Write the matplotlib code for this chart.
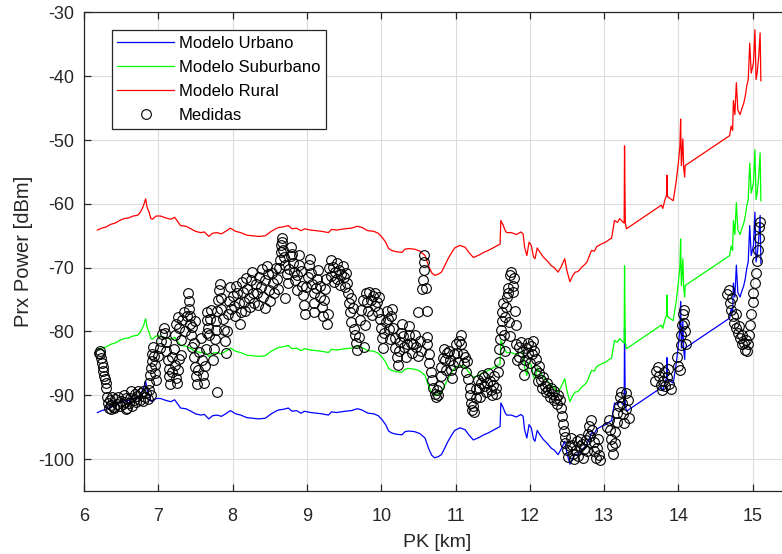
import matplotlib
matplotlib.use("Agg")
import matplotlib.pyplot as plt

plt.rcParams['font.family'] = ['Liberation Sans', 'DejaVu Sans']
plt.rcParams['axes.unicode_minus'] = False

# ---- model curves (PK in km, received power in dBm) ----
model_pk = [6.18, 6.24, 6.30, 6.36, 6.42, 6.48, 6.54, 6.60, 6.66, 6.72, 6.76, 6.80, 6.83, 6.85, 6.87,
            6.90, 6.92, 6.97, 7.03, 7.10, 7.17, 7.22, 7.30, 7.37, 7.44, 7.50, 7.57, 7.62, 7.68, 7.73,
            7.79, 7.85, 7.92, 7.97, 8.04, 8.11, 8.19, 8.27, 8.35, 8.44, 8.52, 8.58, 8.62, 8.68, 8.75,
            8.80, 8.86, 8.92, 8.97, 9.05, 9.13, 9.20, 9.29, 9.33, 9.40, 9.51, 9.60, 9.68, 9.74, 9.82,
            9.90, 9.96, 10.01, 10.06, 10.10, 10.14, 10.20, 10.28, 10.32, 10.37, 10.45, 10.52, 10.59,
            10.64, 10.68, 10.72, 10.77, 10.81, 10.85, 10.90, 10.95, 10.99, 11.06, 11.13, 11.18, 11.24,
            11.32, 11.38, 11.44, 11.52, 11.60, 11.61, 11.64, 11.67, 11.69, 11.75, 11.82, 11.88, 11.91,
            11.93, 11.96, 11.99, 12.02, 12.05, 12.07, 12.10, 12.12, 12.18, 12.24, 12.29, 12.33, 12.38,
            12.42, 12.47, 12.50, 12.54, 12.58, 12.61, 12.65, 12.70, 12.74, 12.77, 12.83, 12.87, 12.90,
            12.96, 13.02, 13.08, 13.10, 13.12, 13.14, 13.18, 13.21, 13.25, 13.27, 13.275, 13.285, 13.30,
            13.77, 13.79, 13.82, 13.84, 13.845, 13.85, 13.87, 13.93, 13.97, 14.00, 14.02, 14.03, 14.04,
            14.06, 14.07, 14.085, 14.09, 14.69, 14.71, 14.73, 14.74, 14.76, 14.78, 14.80, 14.83, 14.85,
            14.88, 14.90, 14.92, 14.94, 14.96, 14.98, 15.01, 15.03, 15.045, 15.06, 15.08, 15.10, 15.11]

rural = [-64.1, -63.8, -63.6, -63.2, -63.0, -62.6, -62.3, -62.2, -61.9, -61.8, -61.3, -60.3, -59.2, -60.6, -61.1,
         -62.3, -62.4, -61.9, -61.9, -62.2, -62.4, -62.1, -63.4, -63.5, -63.9, -64.3, -64.5, -64.4, -65.1, -64.6,
         -64.5, -64.7, -64.2, -63.8, -64.3, -64.5, -64.9, -65.0, -65.1, -65.0, -64.3, -63.9, -63.7, -63.6, -63.4,
         -63.9, -63.8, -64.2, -63.9, -64.1, -64.2, -64.3, -64.5, -64.0, -64.1, -63.9, -63.8, -63.5, -63.7, -64.2,
         -64.3, -64.6, -65.2, -66.0, -67.0, -67.3, -67.5, -67.6, -67.1, -67.0, -67.1, -67.4, -68.1,
         -69.8, -70.8, -71.2, -71.0, -70.7, -69.8, -68.6, -67.6, -66.9, -66.5, -66.8, -67.6, -68.4,
         -68.0, -67.6, -67.3, -66.8, -66.3, -62.6, -63.3, -64.2, -64.5, -64.5, -64.8, -64.4, -64.7,
         -66.8, -68.1, -66.0, -66.5, -68.3, -68.6, -66.9, -67.3, -68.3, -69.0, -69.7, -70.0, -70.7,
         -69.9, -68.6, -70.5, -72.2, -71.2, -70.7, -70.6, -69.9, -69.5, -69.1, -67.3, -67.4, -66.7,
         -66.3, -66.0, -65.5, -65.4, -64.0, -62.6, -62.9, -62.3, -62.8, -63.0, -50.9, -62.9, -63.9,
         -60.2, -60.7, -59.3, -58.7, -55.5, -58.8, -59.0, -59.5, -56.5, -53.5, -51.0, -46.7, -54.0,
         -49.8, -54.2, -55.8, -54.0, -49.3, -47.8, -48.5, -43.8, -46.0, -41.0, -45.3, -46.0, -45.2,
         -44.2, -43.1, -41.5, -40.5, -34.8, -39.5, -37.9, -32.7, -40.5, -39.5, -37.0, -33.2, -40.7]

suburbano = [-82.9, -82.6, -82.4, -82.0, -81.8, -81.4, -81.1, -81.0, -80.7, -80.6, -80.1, -79.1, -78.0, -79.4, -79.9,
             -81.1, -81.2, -80.7, -80.7, -81.0, -81.2, -80.9, -82.2, -82.3, -82.7, -83.1, -83.3, -83.2, -83.9, -83.4,
             -83.3, -83.5, -83.0, -82.6, -83.1, -83.3, -83.7, -83.8, -83.9, -83.8, -83.1, -82.7, -82.5, -82.4, -82.2,
             -82.7, -82.6, -83.0, -82.7, -82.9, -83.0, -83.1, -83.3, -82.8, -82.9, -82.7, -82.6, -82.3, -82.5, -83.0,
             -83.1, -83.4, -84.0, -84.8, -85.8, -86.1, -86.3, -86.4, -85.9, -85.8, -85.9, -86.2, -86.9,
             -88.6, -89.6, -90.0, -89.8, -89.5, -88.6, -87.4, -86.4, -85.7, -85.3, -85.6, -86.4, -87.2,
             -86.8, -86.4, -86.1, -85.6, -85.1, -81.4, -82.1, -83.0, -83.3, -83.3, -83.6, -83.2, -83.5,
             -85.6, -86.9, -84.8, -85.3, -87.1, -87.4, -85.7, -86.1, -87.1, -87.8, -88.5, -88.8, -89.5,
             -88.7, -87.4, -89.3, -91.0, -90.0, -89.5, -89.4, -88.7, -88.3, -87.9, -86.1, -86.2, -85.5,
             -85.1, -84.8, -84.3, -84.2, -82.8, -81.4, -81.7, -81.1, -81.6, -81.8, -69.7, -81.7, -82.7,
             -79.0, -79.5, -78.1, -77.5, -74.3, -77.6, -77.8, -78.3, -75.3, -72.3, -69.8, -65.5, -72.8,
             -68.6, -73.0, -74.6, -72.8, -68.1, -66.6, -67.3, -62.6, -64.8, -59.8, -64.1, -64.8, -64.0,
             -63.0, -61.9, -60.3, -59.3, -53.6, -58.3, -56.7, -51.5, -59.3, -58.3, -55.8, -52.0, -59.5]

urbano = [-92.7, -92.4, -92.2, -91.8, -91.6, -91.2, -90.9, -90.8, -90.5, -90.4, -89.9, -88.9, -87.8, -89.2, -89.7,
          -90.9, -91.0, -90.5, -90.5, -90.8, -91.0, -90.7, -92.0, -92.1, -92.5, -92.9, -93.1, -93.0, -93.7, -93.2,
          -93.1, -93.3, -92.8, -92.4, -92.9, -93.1, -93.5, -93.6, -93.7, -93.6, -92.9, -92.5, -92.3, -92.2, -92.0,
          -92.5, -92.4, -92.8, -92.5, -92.7, -92.8, -92.9, -93.1, -92.6, -92.7, -92.5, -92.4, -92.1, -92.3, -92.8,
          -92.9, -93.2, -93.8, -94.6, -95.6, -95.9, -96.1, -96.2, -95.7, -95.6, -95.7, -96.0, -96.7,
          -98.4, -99.4, -99.8, -99.6, -99.3, -98.4, -97.2, -96.2, -95.5, -95.1, -95.4, -96.2, -97.0,
          -96.6, -96.2, -95.9, -95.4, -94.9, -91.2, -91.9, -92.8, -93.1, -93.1, -93.4, -93.0, -93.3,
          -95.4, -96.7, -94.6, -95.1, -96.9, -97.2, -95.5, -95.9, -96.9, -97.6, -98.3, -98.6, -99.3,
          -98.5, -97.2, -99.1, -100.8, -99.8, -99.3, -99.2, -98.5, -98.1, -97.7, -95.9, -96.0, -95.3,
          -94.9, -94.6, -94.1, -94.0, -92.6, -91.2, -91.5, -90.9, -91.4, -91.6, -79.5, -91.5, -92.5,
          -88.8, -89.3, -87.9, -87.3, -84.1, -87.4, -87.6, -88.1, -85.1, -82.1, -79.6, -75.3, -82.6,
          -78.4, -82.8, -84.4, -82.6, -77.9, -76.4, -77.1, -72.4, -74.6, -69.6, -73.9, -74.6, -73.8,
          -72.8, -71.7, -70.1, -69.1, -63.4, -68.1, -66.5, -61.3, -69.1, -68.1, -65.6, -61.8, -69.3]

# ---- measurements ----
medidas_pk = [
    6.20, 6.21, 6.22, 6.23, 6.24, 6.25, 6.26, 6.27, 6.28, 6.29, 6.30,
    6.31, 6.32, 6.33, 6.35, 6.36, 6.37, 6.38, 6.40, 6.41, 6.42, 6.44, 6.46, 6.48, 6.50, 6.52, 6.54, 6.55,
    6.56, 6.57, 6.58, 6.60, 6.62, 6.63, 6.65, 6.67, 6.68, 6.70, 6.72, 6.73, 6.75, 6.77, 6.79, 6.80, 6.82,
    6.84, 6.86, 6.88, 6.90,
    6.88, 6.89, 6.90, 6.91, 6.92, 6.93, 6.94, 6.95, 6.96, 6.97,
    7.00, 7.02, 7.03, 7.05, 7.07, 7.09, 7.10, 7.11,
    7.13, 7.14, 7.15, 7.16, 7.18, 7.19, 7.21, 7.22, 7.24, 7.25, 7.27, 7.28,
    7.22, 7.24, 7.26, 7.28, 7.30, 7.30, 7.32, 7.34, 7.36, 7.38, 7.40, 7.41, 7.41, 7.42, 7.42, 7.44, 7.46,
    7.48, 7.50,
    7.46, 7.48, 7.50, 7.51, 7.52, 7.54, 7.55, 7.57, 7.59, 7.60, 7.62, 7.63, 7.64, 7.66,
    7.65, 7.66, 7.67, 7.68, 7.70, 7.71, 7.79,
    7.74, 7.75, 7.76, 7.77, 7.78, 7.79, 7.80, 7.82, 7.83, 7.84, 7.85, 7.87, 7.88, 7.90, 7.91, 7.93, 7.94,
    7.95, 7.97, 7.98,
    8.00, 8.02, 8.03, 8.05, 8.06, 8.08, 8.10, 8.11, 8.12, 8.14, 8.15, 8.17, 8.18, 8.20, 8.22, 8.23, 8.25,
    8.26, 8.28, 8.29,
    8.31, 8.33, 8.34, 8.36, 8.38, 8.39, 8.41, 8.43, 8.44, 8.46, 8.48, 8.49, 8.51, 8.53, 8.55, 8.56, 8.58,
    8.60, 8.61,
    8.63, 8.64, 8.65, 8.65, 8.66, 8.67, 8.68, 8.69, 8.70, 8.71,
    8.73, 8.75, 8.76, 8.78, 8.79, 8.80, 8.81, 8.83, 8.84, 8.86, 8.87, 8.89, 8.90, 8.92, 8.93, 8.95, 8.96,
    8.98, 8.99, 9.01,
    9.03, 9.04, 9.06, 9.07, 9.09, 9.10, 9.10, 9.12, 9.14, 9.15, 9.17, 9.18, 9.20, 9.21, 9.23, 9.24, 9.26,
    9.27, 9.28,
    9.30, 9.32, 9.33, 9.35, 9.36, 9.38, 9.40, 9.41, 9.43, 9.45, 9.46, 9.48, 9.50, 9.51, 9.53, 9.54,
    9.55, 9.56, 9.58, 9.59, 9.60, 9.62, 9.63, 9.65, 9.66, 9.68, 9.70, 9.72, 9.73, 9.75, 9.77, 9.78,
    9.79, 9.81, 9.82, 9.84, 9.86, 9.87, 9.89, 9.91, 9.92, 9.94, 9.96, 9.97,
    9.99, 10.00, 10.01, 10.02, 10.04, 10.06, 10.08, 10.09, 10.10, 10.12, 10.13, 10.15,
    10.16, 10.18, 10.19, 10.21, 10.22, 10.24, 10.25, 10.27, 10.28, 10.30, 10.31, 10.33, 10.35, 10.37,
    10.38, 10.40, 10.41, 10.43, 10.45, 10.47, 10.49, 10.50, 10.52, 10.54,
    10.55, 10.56, 10.57, 10.57, 10.58, 10.60, 10.61,
    10.61, 10.62, 10.64, 10.65, 10.67, 10.68, 10.70, 10.72, 10.74, 10.75, 10.77, 10.78, 10.80, 10.81,
    10.83, 10.84, 10.86, 10.87, 10.89,
    10.91, 10.92, 10.94, 10.95, 10.97, 10.98, 11.00, 11.02, 11.03, 11.05, 11.07, 11.08, 11.10, 11.11,
    11.13, 11.14, 11.16, 11.17, 11.19,
    11.20, 11.21, 11.22, 11.24, 11.25, 11.27, 11.28, 11.30, 11.31, 11.33, 11.34, 11.36, 11.38, 11.39,
    11.41, 11.43, 11.44, 11.46, 11.48, 11.49, 11.51, 11.52, 11.54, 11.55, 11.57, 11.58,
    11.59, 11.60, 11.61, 11.62, 11.63, 11.64, 11.65, 11.66, 11.67, 11.68, 11.69, 11.70, 11.71, 11.72,
    11.73, 11.74, 11.75, 11.77, 11.78, 11.79, 11.80, 11.81, 11.82, 11.83,
    11.85, 11.86, 11.88, 11.89, 11.91, 11.92, 11.94, 11.95, 11.97, 11.98, 12.00, 12.01, 12.03, 12.04,
    12.06, 12.08, 12.09, 12.11, 12.12,
    12.13, 12.15, 12.17, 12.18, 12.20, 12.22, 12.23, 12.25, 12.27, 12.28, 12.30, 12.32, 12.33, 12.35,
    12.37, 12.38, 12.40, 12.42, 12.44, 12.45, 12.46, 12.47,
    12.48, 12.50, 12.52, 12.54, 12.55, 12.57, 12.58, 12.60, 12.62, 12.63, 12.65, 12.67, 12.68, 12.70,
    12.72, 12.73, 12.75, 12.77, 12.78, 12.80, 12.81, 12.83, 12.84, 12.86, 12.87, 12.89, 12.90, 12.92,
    12.93, 12.95,
    13.04, 13.06, 13.08, 13.09, 13.11, 13.12, 13.14, 13.15, 13.17, 13.18, 13.20, 13.21, 13.23, 13.24,
    13.26, 13.27, 13.29, 13.30, 13.32, 13.33,
    13.68, 13.70, 13.72, 13.74, 13.76, 13.78, 13.79, 13.81, 13.82, 13.84, 13.86, 13.88, 13.90,
    13.98, 14.00, 14.02, 14.03, 14.04, 14.05, 14.06, 14.07, 14.08, 14.09, 14.10,
    14.66, 14.68, 14.69, 14.71, 14.72, 14.74, 14.75, 14.77, 14.78, 14.80, 14.82, 14.83, 14.85, 14.86,
    14.88, 14.89, 14.91, 14.92, 14.94, 14.95, 14.97, 14.98, 15.00, 15.01, 15.03, 15.04, 15.06, 15.07,
    15.08, 15.09, 15.10]

medidas_dbm = [
    -83.3, -83.0, -83.6, -84.2, -84.9, -85.5, -86.2, -86.9, -87.5, -88.1, -88.8,
    -90.2, -91.2, -92.0, -90.8, -92.1, -91.5, -90.3, -91.8, -92.0, -90.6, -91.3, -90.2, -91.7, -90.9, -91.4, -89.9, -91.0,
    -92.2, -90.4, -92.0, -91.2, -90.5, -89.4, -91.6, -90.8, -89.8, -91.0, -90.1, -89.4, -90.7, -89.6, -90.9, -89.3, -90.3,
    -89.6, -90.6, -89.2, -90.0,
    -88.0, -86.8, -85.7, -84.6, -83.5, -82.5, -83.9, -85.2, -86.5, -87.6,
    -83.8, -82.6, -81.5, -80.4, -79.5, -80.2, -81.6, -83.0,
    -84.5, -85.8, -87.0, -88.2, -86.4, -84.0, -82.8, -85.2, -87.3, -88.0, -86.0, -84.3,
    -80.5, -78.9, -77.8, -79.5, -81.3, -83.7, -78.2, -76.9, -80.0, -77.5, -74.0, -75.2, -76.4, -77.6, -78.8, -80.6, -79.3,
    -81.8, -78.4,
    -82.5, -84.0, -85.5, -87.0, -88.3, -86.0, -83.2, -81.0, -84.5, -86.8, -88.0, -85.4, -82.7, -80.3,
    -77.0, -78.2, -79.4, -80.5, -78.0, -76.6, -89.5,
    -84.5, -82.8, -81.2, -79.8, -78.3, -76.8, -75.0, -73.5, -72.6, -74.7, -76.5, -78.0, -79.8, -81.5, -83.4, -80.0, -77.2,
    -75.2, -73.0, -76.4,
    -74.5, -76.0, -77.5, -72.8, -74.0, -75.5, -78.8, -77.0, -72.3, -73.8, -75.4, -76.8, -71.6, -73.3, -74.8, -76.2, -72.0,
    -70.7, -73.9, -75.6,
    -72.5, -74.0, -75.8, -71.4, -73.1, -70.2, -74.6, -76.3, -72.0, -69.7, -71.0, -73.5, -75.2, -70.8, -72.4, -74.0, -70.0,
    -71.8, -73.3,
    -70.0, -68.8, -67.6, -66.4, -65.3, -66.0, -67.2, -68.4, -69.6, -74.8,
    -71.0, -72.4, -70.2, -68.2, -66.8, -67.9, -69.3, -70.6, -72.0, -73.5, -71.2, -69.6, -68.0, -70.5, -72.8, -74.3, -75.8,
    -77.3, -73.0, -71.5,
    -69.5, -68.6, -70.8, -72.5, -74.0, -75.6, -76.9, -73.2, -71.7, -70.3, -72.9, -74.6, -76.2, -77.6, -75.0, -73.4, -71.8,
    -78.8, -77.2,
    -70.0, -71.3, -68.8, -69.9, -72.2, -70.6, -69.2, -71.8, -70.4, -72.7, -71.0, -69.8, -71.5, -73.0, -70.8, -72.4,
    -74.0, -75.5, -77.0, -78.5, -74.8, -76.3, -79.6, -80.5, -81.8, -82.9, -80.9, -78.2, -76.7, -75.0, -82.4, -79.0,
    -74.0, -75.3, -76.8, -73.8, -75.0, -77.4, -74.4, -76.0, -73.9, -75.4, -77.0, -74.6,
    -78.0, -79.5, -81.0, -82.6, -80.2, -78.5, -76.8, -78.0, -79.6, -81.2, -77.5, -76.4,
    -79.5, -81.0, -82.6, -84.0, -85.2, -83.0, -81.6, -80.2, -78.8, -80.7, -82.5, -84.0, -82.0, -80.6,
    -79.2, -81.8, -83.4, -82.0, -80.5, -82.4, -83.8, -76.9, -81.5, -83.0,
    -73.3, -72.0, -70.4, -69.1, -68.0, -73.2, -76.8,
    -80.8, -82.0, -83.5, -85.0, -86.3, -87.6, -88.8, -89.8, -90.3, -89.2, -90.0, -88.5, -87.0, -85.5,
    -84.2, -82.8, -84.5, -86.0, -83.4,
    -83.0, -84.5, -86.0, -87.3, -85.2, -83.5, -82.0, -83.4, -84.8, -81.5, -80.6, -82.0, -83.5, -85.0,
    -84.0, -86.3, -84.7, -87.5, -88.8,
    -90.0, -91.2, -92.3, -91.6, -92.6, -90.4, -89.0, -87.6, -88.9, -90.2, -88.0, -86.8, -88.5, -87.2,
    -89.5, -88.0, -86.5, -87.8, -89.2, -90.0, -88.4, -87.0, -88.8, -89.8, -86.3, -84.8,
    -82.8, -81.2, -79.7, -78.3, -77.0, -75.5, -80.5, -83.0, -77.8, -76.2, -74.6, -73.2, -74.0, -78.5,
    -80.7, -71.2, -70.7, -72.8, -73.8, -71.6, -76.8, -79.0, -82.0, -84.5,
    -82.5, -84.0, -81.6, -83.2, -85.3, -86.8, -84.5, -82.6, -81.8, -83.4, -85.0, -82.2, -83.6, -81.5,
    -83.0, -84.3, -86.0, -87.8, -85.4,
    -86.5, -87.6, -88.8, -87.2, -88.6, -89.5, -88.0, -89.2, -90.3, -88.9, -89.8, -90.7, -89.4, -90.5,
    -91.4, -89.9, -90.8, -92.0, -93.3, -94.5, -95.6, -96.6,
    -97.5, -98.6, -99.6, -98.0, -96.7, -97.8, -99.2, -100.0, -98.5, -97.2, -99.5, -98.0, -96.8, -97.6,
    -99.8, -98.4, -97.0, -98.8, -96.0, -94.8, -96.4, -93.8, -95.4, -97.3, -98.7, -99.9, -98.2, -96.8,
    -99.4, -100.2,
    -95.0, -93.8, -95.5, -96.8, -98.0, -99.2, -97.4, -95.8, -94.2, -92.8, -91.6, -90.2, -89.5, -91.2,
    -93.0, -94.4, -92.2, -89.6, -90.8, -93.6,
    -87.8, -86.2, -85.5, -87.0, -88.4, -89.2, -87.8, -86.4, -88.6, -87.2, -85.8, -88.2, -89.0,
    -84.0, -85.4, -86.0, -82.1, -80.5, -79.0, -77.2, -76.6, -78.6, -80.0, -82.0,
    -74.2, -73.5, -75.6, -76.6, -74.8, -77.5, -78.6, -77.3, -79.5, -80.3, -79.2, -81.0, -82.0, -80.6,
    -81.8, -82.9, -81.4, -83.0, -82.0, -80.6, -79.0, -77.2, -75.4, -74.0, -72.4, -70.8, -69.0, -67.2,
    -65.4, -63.6, -62.8]

xticks = [6, 7, 8, 9, 10, 11, 12, 13, 14, 15]
yticks = [-100, -90, -80, -70, -60, -50, -40, -30]

txt = '#262626'

fig = plt.figure(figsize=(7.82, 5.54), dpi=100)
ax = fig.add_axes([0.10742, 0.11372, 0.90262, 0.86372])

ax.plot(model_pk, urbano, color=(0, 0, 1), lw=0.9, label='Modelo Urbano')
ax.plot(model_pk, suburbano, color=(0, 1, 0), lw=0.9, label='Modelo Suburbano')
ax.plot(model_pk, rural, color=(1, 0, 0), lw=0.9, label='Modelo Rural')
ax.plot(medidas_pk, medidas_dbm, linestyle='none', marker='o', ms=7, mfc='none',
        mec='black', mew=0.8, label='Medidas')

ax.set_xlim(6, 15.5)
ax.set_ylim(-105, -30)
ax.set_xticks(xticks)
ax.set_yticks(yticks)
ax.grid(True, color='#dcdcdc', lw=0.8)
ax.set_axisbelow(True)

for s in ax.spines.values():
    s.set_color(txt)
    s.set_linewidth(0.9)
ax.tick_params(direction='in', length=5, width=0.9, colors=txt, labelsize=13,
               top=True, right=True)
ax.tick_params(axis='x', pad=12)
ax.tick_params(axis='y', pad=7)

ax.set_xlabel('PK [km]', fontsize=14, color=txt, labelpad=7)
ax.set_ylabel('Prx Power [dBm]', fontsize=14.5, color=txt, labelpad=4)

leg = ax.legend(loc='upper left', bbox_to_anchor=(0.039, 0.964), borderaxespad=0,
                fontsize=12, handlelength=3.4, handletextpad=0.3, borderpad=0.35,
                labelspacing=0.55, fancybox=False, framealpha=1, edgecolor=txt)
leg.get_frame().set_linewidth(0.9)
for t in leg.get_texts():
    t.set_color('black')

fig.savefig('out.png', dpi=100)
